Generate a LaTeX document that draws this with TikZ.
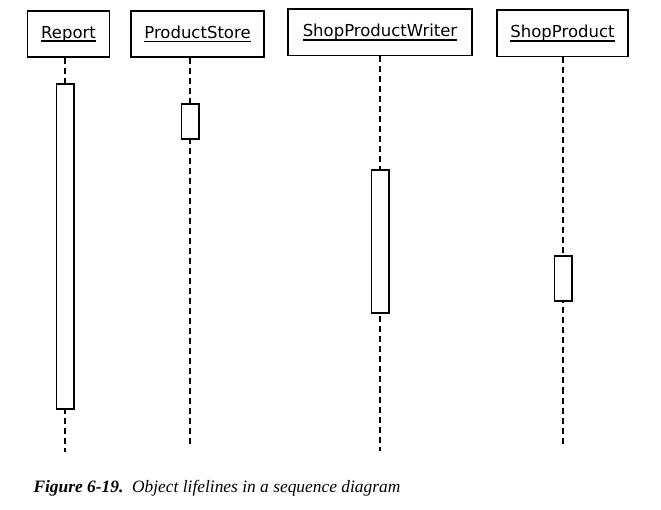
\documentclass[tikz,border=0pt]{standalone}
\usepackage{fontspec}
\setmainfont{Liberation Serif}
\newfontfamily\objfont{DejaVu Sans}
\usetikzlibrary{positioning}
\newcommand{\ulname}[1]{\setbox0=\hbox{#1}\rlap{\rule[-3.8pt]{\wd0}{1.6pt}}\box0}
\tikzset{
  obj/.style={draw, line width=1.6pt, minimum height=46.4pt, inner sep=0pt,
              font=\objfont\fontsize{16.5}{20}\selectfont},
  act/.style={draw, fill=white, line width=1.6pt, minimum width=17.4pt, inner sep=0pt},
  life/.style={line width=1.8pt, dash pattern=on 6pt off 4pt},
}

\begin{document}
\begin{tikzpicture}[x=1pt, y=-1pt]
        \useasboundingbox (0,0) rectangle (661,510);
        \node[obj, minimum width=81.7pt](rep) at (68.5,34){\ulname{Report}};
        \node[obj, minimum width=133.4pt](store) at (197.5,34){\ulname{ProductStore}};
        \node[obj, minimum width=184.4pt](writer) at (380,32.5){\ulname{ShopProductWriter}};
        \node[obj, minimum width=131.4pt](prod) at (562.5,33.5){\ulname{ShopProduct}};
        % ends of the lifelines
        \coordinate (repend) at (65,452);
        \coordinate (storeend) at (190,445);
        \coordinate (writerend) at (380,450.5);
        \coordinate (prodend) at (563,445);
        \draw[life](rep.south -| repend)--(repend);
        \draw[life](store.south -| storeend)--(storeend);
        \draw[life](writer.south -| writerend)--(writerend);
        \draw[life](prod.south -| prodend)--(prodend);
        % activations
        \node[act, minimum height=325.4pt](repact) at (65,246.5){};
        \node[act, minimum height=35.4pt](storeact) at (190,121.5){};
        \node[act, minimum height=143.4pt](writeract) at (380,241.5){};
        \node[act, minimum height=45pt](prodact) at (563,278.3){};
        \node[anchor=base west, font=\fontsize{17.4}{21}\selectfont](cap) at (30,492.7)
          {\textbf{\textit{Figure 6-19.}}\ \ \textit{Object lifelines in a sequence diagram}};
      \end{tikzpicture}
\end{document}
